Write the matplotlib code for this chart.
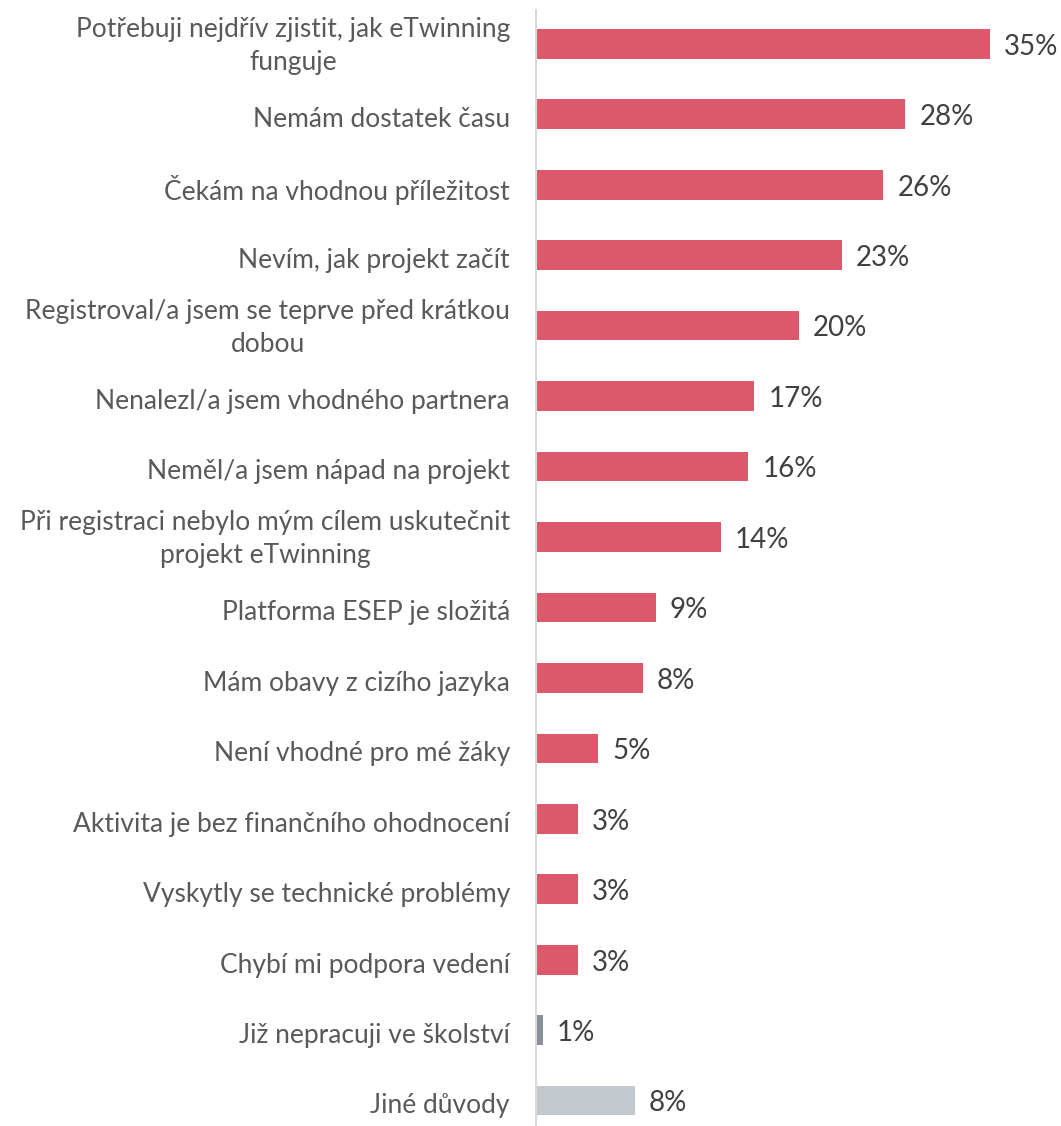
from matplotlib import pyplot as plt

labels = [
    "Potřebuji nejdřív zjistit, jak eTwinning\nfunguje",
    "Nemám dostatek času",
    "Čekám na vhodnou příležitost",
    "Nevím, jak projekt začít",
    "Registroval/a jsem se teprve před krátkou\ndobou",
    "Nenalezl/a jsem vhodného partnera",
    "Neměl/a jsem nápad na projekt",
    "Při registraci nebylo mým cílem uskutečnit\nprojekt eTwinning",
    "Platforma ESEP je složitá",
    "Mám obavy z cizího jazyka",
    "Není vhodné pro mé žáky",
    "Aktivita je bez finančního ohodnocení",
    "Vyskytly se technické problémy",
    "Chybí mi podpora vedení",
    "Již nepracuji ve školství",
    "Jiné důvody",
]
values = [34.9, 28.4, 26.7, 23.5, 20.2, 16.8, 16.3, 14.2, 9.2, 8.2, 4.8, 3.2, 3.2, 3.2, 0.5, 7.6]
value_labels = ["35%", "28%", "26%", "23%", "20%", "17%", "16%", "14%", "9%", "8%",
                "5%", "3%", "3%", "3%", "1%", "8%"]
colors = ["#DC586B"] * 14 + ["#87909A", "#C3C8CC"]

plt.rcParams['font.family'] = ['Lato', 'DejaVu Sans']

fig = plt.figure(figsize=(10.61, 11.26), dpi=100)
ax = fig.add_axes([536 / 1061, 0, 525 / 1061, 1 - 10 / 1126])

pos = list(range(len(labels)))
ax.barh(pos, values, height=0.42, color=colors)

for p, v, t in zip(pos, values, value_labels):
    ax.text(v + 1.1, p + 0.04, t, va="center", ha="left", fontsize=20, color="#404040")

# category labels, right aligned next to the axis line
for p, lab in zip(pos, labels):
    dy = 0.03 if "\n" in lab else 0.075
    ax.text(-26 / 525, p + dy, lab, transform=ax.get_yaxis_transform(),
            ha="right", va="center", multialignment="center", linespacing=1.4,
            fontsize=19, color="#595959")

ax.set_yticks([])
ax.set_xticks([])
ax.set_xlim(0, 525 / 13)
ax.set_ylim(15.36, -0.48)

for s in ["top", "right", "bottom"]:
    ax.spines[s].set_visible(False)
ax.spines["left"].set_color("#D9D9D9")
ax.spines["left"].set_linewidth(1.5)

fig.savefig("out.png", dpi=100)
